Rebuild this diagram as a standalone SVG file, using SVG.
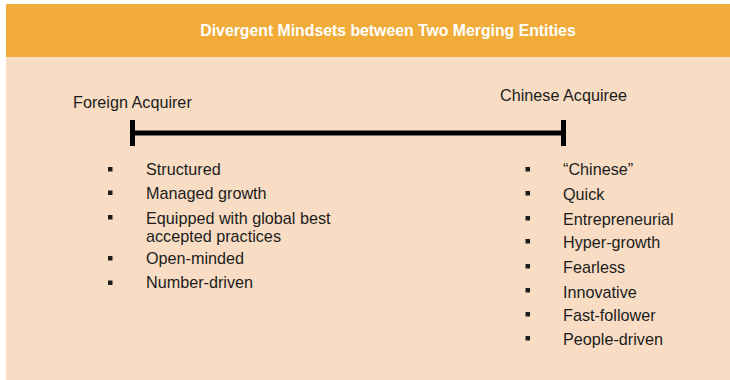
<svg xmlns="http://www.w3.org/2000/svg" width="730" height="380" viewBox="0 0 730 380">
<style>
.t{font-family:"Liberation Sans",Arial,sans-serif;font-size:16.2px;fill:#1c1c1c}
.title{font-family:"Liberation Sans",Arial,sans-serif;font-size:15.8px;font-weight:bold;fill:#ffffff}
.b{fill:#1c1c1c}
</style>
<rect x="0" y="0" width="730" height="380" fill="#ffffff"/>
<g id="panel">
<rect x="6" y="57" width="724" height="323" fill="#F8DCC4"/>
</g>
<g id="header">
<rect x="6" y="4" width="724" height="53" fill="#F0AB38"/>
<text class="title" x="388" y="36" text-anchor="middle">Divergent Mindsets between Two Merging Entities</text>
</g>
<g id="foreign-acquirer">
<text class="t" x="73" y="108">Foreign Acquirer</text>
</g>
<g id="chinese-acquiree">
<text class="t" x="500" y="101">Chinese Acquiree</text>
</g>
<g id="connectors">
<line x1="132.5" y1="133" x2="563.5" y2="133" stroke="#000" stroke-width="5"/>
<line x1="132.5" y1="120" x2="132.5" y2="146" stroke="#000" stroke-width="5"/>
<line x1="563.5" y1="120" x2="563.5" y2="146" stroke="#000" stroke-width="5"/>
</g>
<g id="left-list">
<rect class="b" x="108" y="167" width="4.5" height="4.5"/>
<text class="t" x="146" y="175">Structured</text>
<rect class="b" x="108" y="190.5" width="4.5" height="4.5"/>
<text class="t" x="146" y="199">Managed growth</text>
<rect class="b" x="108" y="215" width="4.5" height="4.5"/>
<text class="t" x="146" y="223.5">Equipped with global best</text>
<text class="t" x="146" y="242">accepted practices</text>
<rect class="b" x="108" y="256" width="4.5" height="4.5"/>
<text class="t" x="146" y="264">Open-minded</text>
<rect class="b" x="108" y="280.5" width="4.5" height="4.5"/>
<text class="t" x="146" y="288">Number-driven</text>
</g>
<g id="right-list">
<rect class="b" x="525.5" y="167" width="4.5" height="4.5"/>
<text class="t" x="563" y="175">“Chinese”</text>
<rect class="b" x="525.5" y="191" width="4.5" height="4.5"/>
<text class="t" x="563" y="199.5">Quick</text>
<rect class="b" x="525.5" y="216" width="4.5" height="4.5"/>
<text class="t" x="563" y="224.5">Entrepreneurial</text>
<rect class="b" x="525.5" y="239" width="4.5" height="4.5"/>
<text class="t" x="563" y="247.5">Hyper-growth</text>
<rect class="b" x="525.5" y="264" width="4.5" height="4.5"/>
<text class="t" x="563" y="272.5">Fearless</text>
<rect class="b" x="525.5" y="288" width="4.5" height="4.5"/>
<text class="t" x="563" y="297.5">Innovative</text>
<rect class="b" x="525.5" y="312" width="4.5" height="4.5"/>
<text class="t" x="563" y="321">Fast-follower</text>
<rect class="b" x="525.5" y="336" width="4.5" height="4.5"/>
<text class="t" x="563" y="345">People-driven</text>
</g>
</svg>
